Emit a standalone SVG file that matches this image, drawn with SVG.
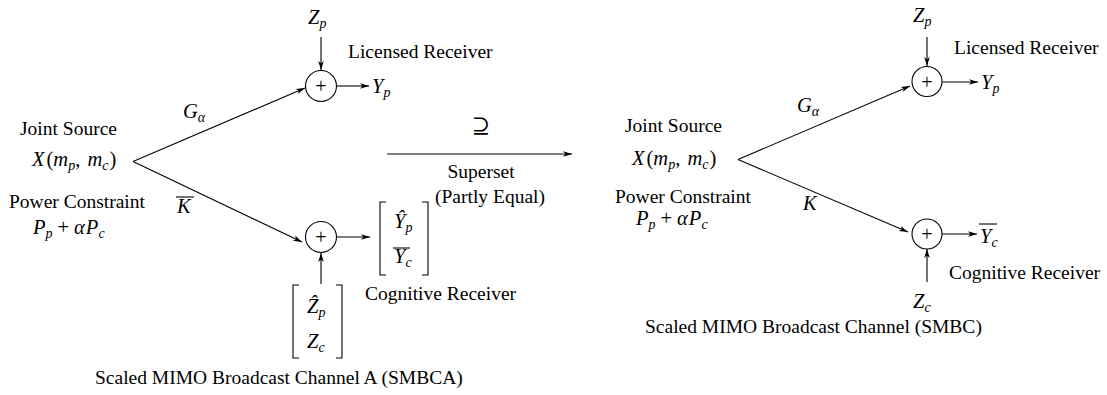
<svg xmlns="http://www.w3.org/2000/svg" width="1107" height="395" viewBox="0 0 1107 395">
<style>
text{font-family:"Liberation Serif","Times New Roman",serif;font-size:19.5px;fill:#000}
.i{font-style:italic}
.s{font-size:14px;font-style:italic}
.m{font-size:20.5px}
.ln{stroke:#000;stroke-width:1.1;fill:none}
.ar{stroke:#000;stroke-width:1.1;fill:none;marker-end:url(#ah)}
.c{fill:#fff;stroke:#000;stroke-width:1.1}
.pl{font-size:20px;text-anchor:middle}
</style>
<defs>
<marker id="ah" markerWidth="10" markerHeight="8" refX="9" refY="4" orient="auto" markerUnits="userSpaceOnUse"><path d="M0,1.2 L9,4 L0,6.8 L2.5,4 Z" fill="#000"/></marker>
</defs>
<rect width="1107" height="395" fill="#fff"/>

<g id="connectors">
<line class="ar" x1="133" y1="161.5" x2="305" y2="88"/>
<line class="ar" x1="133" y1="161.5" x2="302" y2="242"/>
<line class="ar" x1="321" y1="37" x2="321" y2="70"/>
<line class="ar" x1="337" y1="86" x2="369" y2="86"/>
<line class="ar" x1="337" y1="237" x2="370" y2="237"/>
<line class="ar" x1="321" y1="284" x2="321" y2="253"/>
<line class="ar" x1="387" y1="154" x2="572" y2="154"/>
<line class="ar" x1="738" y1="159.5" x2="910" y2="86"/>
<line class="ar" x1="738" y1="159.5" x2="908" y2="232"/>
<line class="ar" x1="927" y1="37" x2="927" y2="66"/>
<line class="ar" x1="942" y1="82" x2="978" y2="82"/>
<line class="ar" x1="942" y1="234" x2="977" y2="234"/>
<line class="ar" x1="927" y1="282" x2="927" y2="249"/>
</g>

<g id="left-source">
<text x="20" y="135">Joint Source</text>
<text x="32" y="166" class="m"><tspan class="i">X</tspan><tspan dx="2">(</tspan><tspan class="i">m</tspan><tspan class="s" dy="4">p</tspan><tspan dy="-4">, </tspan><tspan class="i" dx="2">m</tspan><tspan class="s" dy="4">c</tspan><tspan dy="-4" dx="1">)</tspan></text>
<text x="9" y="208">Power Constraint</text>
<text x="33" y="234" class="m"><tspan class="i">P</tspan><tspan class="s" dy="4">p</tspan><tspan dy="-4" dx="5">+</tspan><tspan class="i" dx="5">α</tspan><tspan class="i" dx="1">P</tspan><tspan class="s" dy="4">c</tspan></text>
</g>

<g id="left-labels">
<text x="183" y="118" class="m"><tspan class="i">G</tspan><tspan class="s" dy="4">α</tspan></text>
<text x="177" y="213" class="m i">K</text>
<line class="ln" x1="176" y1="197" x2="194" y2="197" stroke-width="1.6"/>
</g>

<g id="left-licensed">
<text x="308" y="24" class="m"><tspan class="i">Z</tspan><tspan class="s" dy="4">p</tspan></text>
<circle class="c" cx="321" cy="86" r="15.5"/>
<text x="321" y="93" class="pl">+</text>
<text x="348" y="58">Licensed Receiver</text>
<text x="372" y="93" class="m"><tspan class="i">Y</tspan><tspan class="s" dy="4">p</tspan></text>
</g>

<g id="left-cognitive">
<circle class="c" cx="321" cy="237" r="15.5"/>
<text x="321" y="244" class="pl">+</text>
<path class="ln" d="M386,202 H380 V275 H386 M422,202 H428 V275 H422"/>
<text x="394" y="228" class="m"><tspan class="i">Ŷ</tspan><tspan class="s" dy="4">p</tspan></text>
<text x="394" y="263" class="m"><tspan class="i">Y</tspan><tspan class="s" dy="4">c</tspan></text>
<line class="ln" x1="393" y1="248" x2="410" y2="248" stroke-width="1.6"/>
<text x="365" y="300">Cognitive Receiver</text>
<path class="ln" d="M299,285 H293 V358 H299 M336,285 H342 V358 H336"/>
<text x="307" y="313" class="m"><tspan class="i">Ẑ</tspan><tspan class="s" dy="4">p</tspan></text>
<text x="307" y="348" class="m"><tspan class="i">Z</tspan><tspan class="s" dy="4">c</tspan></text>
</g>

<g id="left-caption">
<text x="95" y="384">Scaled MIMO Broadcast Channel A (SMBCA)</text>
</g>

<g id="middle">
<text x="481" y="133" style="font-family:'DejaVu Serif',serif;font-size:22px;text-anchor:middle">⊇</text>
<text x="481" y="178" text-anchor="middle">Superset</text>
<text x="490" y="203" text-anchor="middle">(Partly Equal)</text>
</g>

<g id="right-source">
<text x="625" y="132">Joint Source</text>
<text x="632" y="165" class="m"><tspan class="i">X</tspan><tspan dx="2">(</tspan><tspan class="i">m</tspan><tspan class="s" dy="4">p</tspan><tspan dy="-4">, </tspan><tspan class="i" dx="2">m</tspan><tspan class="s" dy="4">c</tspan><tspan dy="-4" dx="1">)</tspan></text>
<text x="615" y="203">Power Constraint</text>
<text x="636" y="225" class="m"><tspan class="i">P</tspan><tspan class="s" dy="4">p</tspan><tspan dy="-4" dx="5">+</tspan><tspan class="i" dx="5">α</tspan><tspan class="i" dx="1">P</tspan><tspan class="s" dy="4">c</tspan></text>
</g>

<g id="right-labels">
<text x="797" y="112" class="m"><tspan class="i">G</tspan><tspan class="s" dy="4">α</tspan></text>
<text x="803" y="210" class="m i">K</text>
</g>

<g id="right-licensed">
<text x="913" y="22" class="m"><tspan class="i">Z</tspan><tspan class="s" dy="4">p</tspan></text>
<circle class="c" cx="927" cy="81.5" r="15"/>
<text x="927" y="88.5" class="pl">+</text>
<text x="954" y="54">Licensed Receiver</text>
<text x="981" y="89" class="m"><tspan class="i">Y</tspan><tspan class="s" dy="4">p</tspan></text>
</g>

<g id="right-cognitive">
<circle class="c" cx="927" cy="234" r="15"/>
<text x="927" y="241" class="pl">+</text>
<text x="980" y="243" class="m"><tspan class="i">Y</tspan><tspan class="s" dy="4">c</tspan></text>
<line class="ln" x1="979" y1="224" x2="997" y2="224" stroke-width="1.6"/>
<text x="949" y="279">Cognitive Receiver</text>
<text x="913" y="308" class="m"><tspan class="i">Z</tspan><tspan class="s" dy="4">c</tspan></text>
</g>

<g id="right-caption">
<text x="645" y="333">Scaled MIMO Broadcast Channel (SMBC)</text>
</g>
</svg>
